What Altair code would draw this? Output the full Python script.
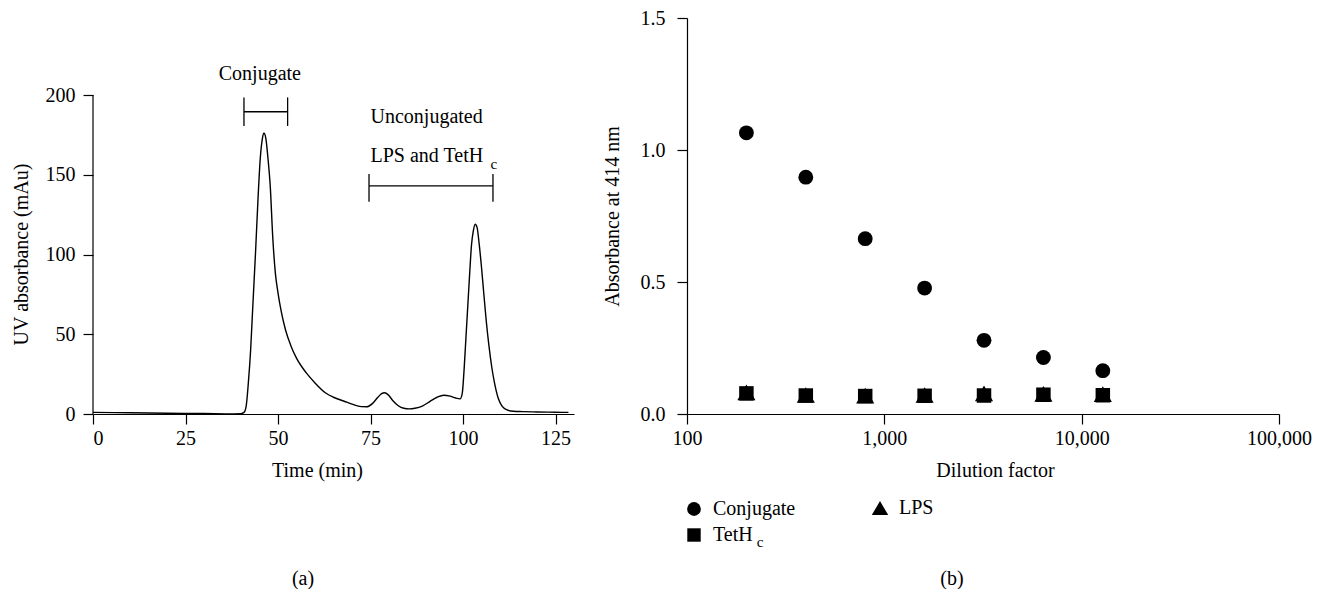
import altair as alt
import pandas as pd

FONT = "Liberation Serif"
FS = 20
SUB = 15

# ---------- Panel (a): chromatogram ----------
time_min = [0, 10, 20, 30, 38, 40, 40.8, 41.4, 42.0, 42.6, 43.2, 43.9, 44.6, 45.2, 45.8,
            46.2, 46.7, 47.3, 47.9, 48.6, 49.3, 50.0, 50.9, 52.0, 53.5, 55.0, 57.6, 60.0,
            62.8, 65.0, 67.9, 70.0, 72.5, 74.0, 75.5, 77.0, 78.0, 78.8, 79.8, 81.0, 82.5,
            84.0, 85.5, 87.0, 89.0, 91.0, 93.0, 94.8, 96.5, 98.0, 99.2, 99.8, 100.3, 100.8,
            101.3, 101.8, 102.3, 102.8, 103.3, 103.8, 104.4, 105.0, 105.6, 106.3, 107.0,
            107.8, 108.5, 109.5, 110.6, 112.0, 113.7, 116.0, 120.0, 125.0, 128.5]
uv_mau = [1.0, 0.8, 0.5, 0.3, 0.1, 0.2, 1.0, 5, 20, 40, 68, 100, 135, 160, 173,
          176, 173, 160, 143, 110, 88, 76, 64, 53, 42.7, 35, 25.9, 19.5,
          13.3, 10.5, 8.0, 6.2, 4.6, 4.5, 6.5, 10.5, 12.8, 13.3, 12, 8.5, 5.2,
          3.6, 3.2, 3.6, 5, 7.8, 10.5, 11.8, 11.2, 10, 9.5, 13, 28, 48,
          68, 88, 106, 115, 119, 117, 106, 92, 76, 58, 43,
          29, 19.6, 10, 4.8, 2.5, 1.7, 1.5, 1.3, 1.1, 1.0]

bracket_start = [40.8, 74.6]
bracket_end = [52.6, 108.1]
bracket_y = [189.5, 143.0]
bracket_lo = [180.6, 133.0]
bracket_hi = [198.5, 150.5]

ann_text = ["Conjugate", "Unconjugated", "LPS and TetH"]
ann_x = [45.1, 75.0, 75.0]
ann_y = [213.0, 186.0, 161.5]
ann_align = ["center", "left", "left"]

sub_text = ["c"]
sub_x = [108.3]
sub_y = [157.0]

# ---------- Panel (b): absorbance vs dilution ----------
dilution = [200, 400, 800, 1600, 3200, 6400, 12800]
conjugate = [1.065, 0.897, 0.664, 0.477, 0.279, 0.214, 0.164]
tethc = [0.078, 0.070, 0.068, 0.069, 0.070, 0.073, 0.071]
lps = [0.082, 0.072, 0.070, 0.072, 0.078, 0.076, 0.075]

LW, LH = 481, 396
RW, RH = 592, 396
YTOP = 200 * LH / 319.0  # keep 0..200 on 319 px

chrom = pd.DataFrame({"t": time_min, "a": uv_mau})
brk = pd.DataFrame({"s": bracket_start, "e": bracket_end, "y": bracket_y,
                    "lo": bracket_lo, "hi": bracket_hi})
ann = pd.DataFrame({"label": ann_text, "x": ann_x, "y": ann_y, "al": ann_align})
sub = pd.DataFrame({"label": sub_text, "x": sub_x, "y": sub_y})
yline = pd.DataFrame({"x": [0], "y": [0], "y2": [200]})

xs = alt.Scale(domain=[0, 130], nice=False, zero=False)
ys = alt.Scale(domain=[0, YTOP], nice=False)

line = alt.Chart(chrom).mark_line(color="black", strokeWidth=1.4, interpolate="monotone").encode(
    x=alt.X("t:Q", scale=xs,
            axis=alt.Axis(values=[0, 25, 50, 75, 100, 125], title="Time (min)",
                          labelPadding=4, titlePadding=12, titleX=224)),
    y=alt.Y("a:Q", scale=ys,
            axis=alt.Axis(values=[0, 50, 100, 150, 200], title="UV absorbance (mAu)",
                          domain=False, labelPadding=8, titlePadding=14, titleY=LH - 160)),
)
yaxis_line = alt.Chart(yline).mark_rule(color="black", strokeWidth=1.2).encode(
    x="x:Q", y="y:Q", y2="y2:Q")
brk_h = alt.Chart(brk).mark_rule(color="black", strokeWidth=1.3).encode(x="s:Q", x2="e:Q", y="y:Q")
brk_l = alt.Chart(brk).mark_rule(color="black", strokeWidth=1.3).encode(x="s:Q", y="lo:Q", y2="hi:Q")
brk_r = alt.Chart(brk).mark_rule(color="black", strokeWidth=1.3).encode(x="e:Q", y="lo:Q", y2="hi:Q")
ann_c = alt.Chart(ann[ann.al == "center"]).mark_text(
    font=FONT, fontSize=FS, align="center", baseline="middle", color="black").encode(
    x="x:Q", y="y:Q", text="label:N")
ann_l = alt.Chart(ann[ann.al == "left"]).mark_text(
    font=FONT, fontSize=FS, align="left", baseline="middle", color="black").encode(
    x="x:Q", y="y:Q", text="label:N")
sub_t = alt.Chart(sub).mark_text(
    font=FONT, fontSize=SUB, align="center", baseline="middle", color="black").encode(
    x="x:Q", y="y:Q", text="label:N")
cap_a = alt.Chart(pd.DataFrame({"k": [0]})).mark_text(
    font=FONT, fontSize=FS, align="center", baseline="middle", color="black").encode(
    x=alt.value(210), y=alt.value(561), text=alt.value("(a)"))

left = alt.layer(line, yaxis_line, brk_h, brk_l, brk_r, ann_c, ann_l, sub_t, cap_a).properties(
    width=LW, height=LH)

# right
rows = []
for name, vals in [("LPS", lps), ("TetHc", tethc), ("Conjugate", conjugate)]:
    for d, v in zip(dilution, vals):
        rows.append({"series": name, "dilution": d, "abs": v})
pts = pd.DataFrame(rows)

rx = alt.Scale(type="log", domain=[100, 100000], nice=False)
ry = alt.Scale(domain=[0, 1.5], nice=False)

def scatter(name, shape, size):
    return alt.Chart(pts[pts.series == name]).mark_point(
        shape=shape, filled=True, size=size, color="black", opacity=1).encode(
        x=alt.X("dilution:Q", scale=rx,
                axis=alt.Axis(values=[100, 1000, 10000, 100000], format=",",
                              title="Dilution factor", labelPadding=4, titlePadding=12,
                              labelFlush=False, titleX=308)),
        y=alt.Y("abs:Q", scale=ry,
                axis=alt.Axis(values=[0, 0.5, 1.0, 1.5], format=".1f",
                              title="Absorbance at 414 nm", labelPadding=12,
                              titlePadding=18)),
    )

dummy = pd.DataFrame({"k": [0]})

def leg(shape, label, px, py, size=190):
    sym = alt.Chart(dummy).mark_point(shape=shape, filled=True, size=size, color="black",
                                      opacity=1).encode(x=alt.value(px), y=alt.value(py))
    txt = alt.Chart(dummy).mark_text(font=FONT, fontSize=FS, align="left", baseline="middle",
                                     color="black").encode(
        x=alt.value(px + 19), y=alt.value(py), text=alt.value(label))
    return [sym, txt]

legend_layers = (leg("circle", "Conjugate", 7, 491) + leg("triangle-up", "LPS", 193, 490, 270)
                 + leg("square", "TetH", 7, 517, 180))
subc = alt.Chart(dummy).mark_text(font=FONT, fontSize=SUB, align="center", baseline="middle",
                                  color="black").encode(
    x=alt.value(73), y=alt.value(524), text=alt.value("c"))
cap_b = alt.Chart(dummy).mark_text(font=FONT, fontSize=FS, align="center", baseline="middle",
                                   color="black").encode(
    x=alt.value(265), y=alt.value(561), text=alt.value("(b)"))

right = alt.layer(scatter("LPS", "triangle-up", 330), scatter("TetHc", "square", 210),
                  scatter("Conjugate", "circle", 220), *legend_layers, subc, cap_b).properties(
    width=RW, height=RH)

chart = alt.hconcat(left, right, spacing=113, bounds="flush").properties(
    padding={"left": 3, "top": 0, "right": 0, "bottom": 0}
).configure_view(stroke=None).configure_axis(
    labelFont=FONT, titleFont=FONT, labelFontSize=FS, titleFontSize=FS,
    titleFontWeight="normal", labelColor="black", titleColor="black",
    domainColor="black", tickColor="black", domainWidth=1.2, tickWidth=1.2,
    tickSize=10, grid=False,
)

chart.save("out.html", embed_options={"renderer": "svg", "actions": False})
